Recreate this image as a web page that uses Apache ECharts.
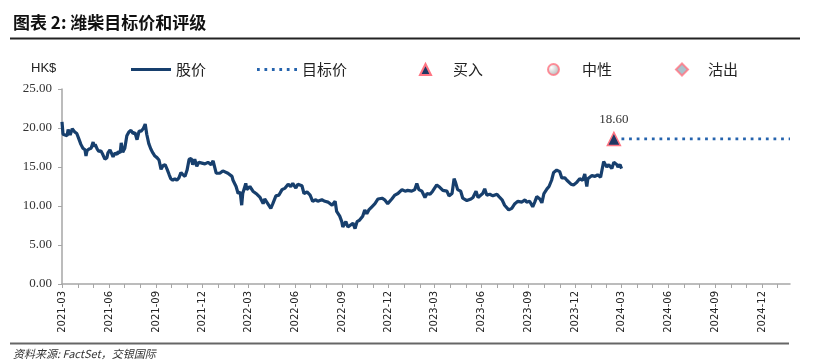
<!DOCTYPE html>
<html><head><meta charset="utf-8">
<script src="https://cdn.jsdelivr.net/npm/echarts@6/dist/echarts.min.js"></script>
<style>html,body{margin:0;padding:0;background:#fff}#c{width:816px;height:362px}</style>
</head><body><div id="c"></div>
<script>
// ---------- DATA ----------
const priceDates = [
'2021-03-01','2021-03-03','2021-03-07','2021-03-11','2021-03-13','2021-03-17','2021-03-21','2021-03-23','2021-03-26','2021-03-30',
'2021-04-03','2021-04-07','2021-04-11','2021-04-15','2021-04-17','2021-04-19','2021-04-23','2021-04-27','2021-05-01','2021-05-03',
'2021-05-05','2021-05-09','2021-05-12','2021-05-16','2021-05-20','2021-05-24','2021-05-28','2021-05-30','2021-06-03','2021-06-05',
'2021-06-09','2021-06-13','2021-06-17','2021-06-19','2021-06-23','2021-06-25','2021-06-28','2021-07-02','2021-07-06','2021-07-10',
'2021-07-14','2021-07-18','2021-07-22','2021-07-26','2021-07-30','2021-08-03','2021-08-07','2021-08-11','2021-08-14','2021-08-18',
'2021-08-22','2021-08-26','2021-08-30','2021-09-03','2021-09-07','2021-09-11','2021-09-15','2021-09-19','2021-09-23','2021-09-27',
'2021-09-30','2021-10-04','2021-10-08','2021-10-12','2021-10-16','2021-10-20','2021-10-24','2021-10-28','2021-11-01','2021-11-05',
'2021-11-09','2021-11-12','2021-11-16','2021-11-20','2021-11-24','2021-11-30','2021-12-06','2021-12-12','2021-12-18','2021-12-22',
'2021-12-28','2022-01-04','2022-01-10','2022-01-20','2022-01-28','2022-01-30','2022-02-05','2022-02-09','2022-02-13','2022-02-16',
'2022-02-18','2022-02-24','2022-02-26','2022-03-04','2022-03-10','2022-03-18','2022-03-24','2022-03-30','2022-04-02','2022-04-08',
'2022-04-14','2022-04-18','2022-04-24','2022-04-30','2022-05-06','2022-05-12','2022-05-18','2022-05-23','2022-05-27','2022-06-02',
'2022-06-06','2022-06-14','2022-06-18','2022-06-24','2022-06-30','2022-07-05','2022-07-11','2022-07-15','2022-07-23','2022-07-29',
'2022-08-04','2022-08-12','2022-08-18','2022-08-21','2022-08-27','2022-08-31','2022-09-02','2022-09-08','2022-09-12','2022-09-18',
'2022-09-22','2022-09-26','2022-09-30','2022-10-05','2022-10-11','2022-10-15','2022-10-19','2022-10-23','2022-10-29','2022-11-04',
'2022-11-10','2022-11-18','2022-11-23','2022-11-29','2022-12-07','2022-12-13','2022-12-19','2022-12-27','2023-01-02','2023-01-07',
'2023-01-15','2023-01-21','2023-01-25','2023-01-29','2023-02-04','2023-02-10','2023-02-14','2023-02-20','2023-02-25','2023-03-05',
'2023-03-11','2023-03-17','2023-03-25','2023-03-29','2023-04-04','2023-04-08','2023-04-11','2023-04-15','2023-04-21','2023-04-25',
'2023-05-03','2023-05-11','2023-05-15','2023-05-21','2023-05-25','2023-05-28','2023-06-03','2023-06-07','2023-06-11','2023-06-17',
'2023-06-23','2023-07-01','2023-07-05','2023-07-11','2023-07-16','2023-07-24','2023-07-30','2023-08-05','2023-08-11','2023-08-19',
'2023-08-25','2023-08-28','2023-09-03','2023-09-09','2023-09-13','2023-09-17','2023-09-23','2023-09-27','2023-10-01','2023-10-07',
'2023-10-11','2023-10-16','2023-10-20','2023-10-26','2023-11-01','2023-11-05','2023-11-11','2023-11-15','2023-11-23','2023-11-28',
'2023-12-04','2023-12-10','2023-12-16','2023-12-20','2023-12-24','2023-12-26','2024-01-03','2024-01-09','2024-01-14','2024-01-20',
'2024-01-26','2024-02-01','2024-02-05','2024-02-11','2024-02-15','2024-02-21','2024-02-23','2024-02-27','2024-03-01'
];
const priceValues = [
20.8,19.2,19.1,19.0,19.8,19.1,19.9,20.1,19.5,19.3,
18.6,17.9,17.4,17.2,16.4,17.1,17.3,17.4,18.2,17.6,
17.9,17.3,17.0,17.1,16.6,16.0,16.2,16.8,17.2,16.9,
16.3,16.8,16.6,17.0,16.8,18.1,16.9,17.4,19.0,19.5,
19.7,19.3,19.4,18.5,19.6,19.6,19.9,20.5,19.2,18.0,
17.3,16.8,16.4,16.2,15.9,14.7,15.2,15.3,14.7,14.0,
13.5,13.3,13.5,13.3,13.6,14.3,14.0,13.8,14.6,16.0,
16.1,15.3,16.0,15.1,15.6,15.5,15.4,15.6,15.3,15.8,
14.2,14.2,14.5,14.2,13.8,13.3,12.5,11.6,11.8,10.1,
11.6,12.9,12.1,12.5,11.9,11.5,11.1,10.3,10.9,10.3,
9.7,10.3,11.3,11.4,12.1,12.3,12.8,12.5,12.9,12.3,
12.8,12.6,11.6,11.8,11.4,10.6,10.8,10.6,10.8,10.6,
10.5,10.1,10.6,9.3,8.7,8.0,7.3,8.0,7.3,7.6,
7.8,7.1,8.0,8.2,8.7,9.5,9.0,9.5,9.9,10.3,
10.9,11.0,10.8,10.3,10.9,11.4,11.6,12.1,11.9,12.0,
11.9,12.1,12.9,12.1,11.9,11.1,11.6,11.5,11.9,12.7,
12.4,12.0,11.9,11.3,11.6,13.5,13.0,12.1,11.9,11.0,
10.7,10.9,11.1,11.9,11.1,11.2,11.6,12.2,11.4,11.5,
11.3,11.5,11.2,10.8,10.1,9.5,9.7,10.3,10.6,10.5,
10.8,10.5,10.6,9.9,10.5,11.2,10.9,10.4,11.6,12.2,
12.5,13.3,14.3,14.6,14.4,13.6,13.6,13.3,12.8,12.7,
13.0,13.5,13.3,14.1,12.5,13.5,13.9,13.8,14.0,13.7,
15.7,15.0,15.3,14.8,15.6,15.3,15.0,15.3,14.8
];
const targetDate = '2024-02-15';
const targetPrice = 18.60;
const targetEndDate = '2025-01-25';
const axisStartDate = '2021-03-01';
const axisEndDate = '2025-01-25';
const xTickLabels = ['2021-03','2021-06','2021-09','2021-12','2022-03','2022-06','2022-09','2022-12',
  '2023-03','2023-06','2023-09','2023-12','2024-03','2024-06','2024-09','2024-12'];
const yMin = 0, yMax = 25, yStep = 5;

// ---------- helpers ----------
function ts(s){ const p = s.split('-').map(Number); return new Date(p[0], p[1]-1, p[2]||1).getTime(); }
function pad(n){ return (n<10?'0':'')+n; }
const monthTicks = [];
(function(){
  const a = new Date(ts(axisStartDate)), b = ts(axisEndDate);
  let y = a.getFullYear(), m = a.getMonth();
  while (new Date(y, m, 1).getTime() <= b) { monthTicks.push(new Date(y, m, 1).getTime()); m++; if (m>11){m=0;y++;} }
})();
const labelTicks = xTickLabels.map(ts);

const priceData = priceDates.map((d,i)=>[ts(d), priceValues[i]]);
const targetData = [[ts(targetDate), targetPrice],[ts(targetEndDate), targetPrice]];
const buyData = [[ts(targetDate), targetPrice]];

// legend icon shapes
const solidIcon = 'path://M0 0h40v3H0z';
let dotted = '';
for (let i = 0; i < 6; i++) { const x = 1 + i * 7.6; dotted += 'M' + x + ' 0h2.8v3H' + x + 'z'; }
const dottedIcon = 'path://' + dotted + 'M40 0v3z';

const chart = echarts.init(document.getElementById('c'), null, {renderer:'canvas'});
const cjk = "'Noto Sans CJK SC', sans-serif";
const legendText = {fontSize:15, fontFamily:cjk, color:'#222'};
const pink = '#ff7482';

chart.setOption({
  animation:false,
  backgroundColor:'#fff',
  grid:{left:62, right:26, top:89, bottom:78, containLabel:false},
  xAxis:{
    type:'value', min:ts(axisStartDate), max:ts(axisEndDate),
    axisLine:{show:true, lineStyle:{color:'#a6a6a6', width:1.5}},
    axisTick:{show:true, customValues:monthTicks, length:4, lineStyle:{color:'#a6a6a6'}},
    axisLabel:{customValues:labelTicks, rotate:90, margin:7, fontSize:10, fontFamily:'DejaVu Sans', color:'#222',
      formatter:function(v){ const d=new Date(v); return d.getFullYear()+'-'+pad(d.getMonth()+1); }},
    splitLine:{show:false}
  },
  yAxis:{
    type:'value', min:yMin, max:yMax, interval:yStep,
    axisLine:{show:true, lineStyle:{color:'#a6a6a6', width:1.5}},
    axisTick:{show:true, length:4, lineStyle:{color:'#a6a6a6'}},
    axisLabel:{margin:10, fontSize:13, fontFamily:"'Liberation Serif', serif", color:'#333',
      formatter:function(v){ return v.toFixed(2); }},
    splitLine:{show:false}
  },
  legend:[
    {data:[{name:'股价', icon:solidIcon, itemStyle:{color:'#173f6d'}}], left:126, top:57, itemWidth:40, itemHeight:3, itemGap:0, textStyle:legendText},
    {data:[{name:'目标价', icon:dottedIcon, itemStyle:{color:'#2563ad'}}], left:252, top:57, itemWidth:40, itemHeight:3, itemGap:0, textStyle:legendText},
    {data:[{name:'买入', icon:'triangle'}], left:414, top:57, itemWidth:11, itemHeight:11, textStyle:Object.assign({padding:[0,0,0,17]}, legendText)},
    {data:[{name:'中性', icon:'circle'}], left:542, top:57, itemWidth:11, itemHeight:11, textStyle:Object.assign({padding:[0,0,0,18]}, legendText)},
    {data:[{name:'沽出', icon:'diamond'}], left:670, top:57, itemWidth:12, itemHeight:12, textStyle:Object.assign({padding:[0,0,0,15]}, legendText)}
  ],
  series:[
    {name:'股价', type:'line', data:priceData, symbol:'none', showSymbol:false,
      lineStyle:{color:'#173f6d', width:3.2}, itemStyle:{color:'#173f6d'}, z:3},
    {name:'目标价', type:'line', data:targetData, symbol:'none', showSymbol:false,
      lineStyle:{color:'#2563ad', width:2.8, type:[2.8,4.8]}, itemStyle:{color:'#2563ad'}, z:2},
    {name:'买入', type:'scatter', data:buyData, symbol:'triangle', symbolSize:13,
      itemStyle:{color:'#1f3864', borderColor:pink, borderWidth:1.5, opacity:1},
      label:{show:true, position:'top', distance:6, formatter:function(){ return targetPrice.toFixed(2); },
        fontSize:13, fontFamily:"'Liberation Serif', serif", color:'#333'}, z:5},
    {name:'中性', type:'scatter', data:[], symbol:'circle', symbolSize:11,
      itemStyle:{color:{type:'radial', x:0.35, y:0.35, r:0.75, colorStops:[{offset:0,color:'#ffffff'},{offset:1,color:'#9a9a9a'}]},
        borderColor:pink, borderWidth:1.5}},
    {name:'沽出', type:'scatter', data:[], symbol:'diamond', symbolSize:12,
      itemStyle:{color:'#93b3bf', borderColor:pink, borderWidth:1.5}}
  ],
  graphic:[
    {type:'text', left:13, top:14, style:{text:'图表 2: 潍柴目标价和评级', font:"bold 17px 'Noto Sans CJK SC'", fill:'#111'}},
    {type:'rect', shape:{x:10, y:37.5, width:790, height:2}, style:{fill:'#222'}},
    {type:'text', left:31, top:62, style:{text:'HK$', font:"13px 'Liberation Sans', Arial", fill:'#222'}},
    {type:'rect', shape:{x:10, y:342.5, width:779, height:2}, style:{fill:'#666'}},
    {type:'text', left:13, top:348, style:{text:'资料来源: FactSet，交银国际', font:"italic 11px 'Noto Sans CJK SC'", fill:'#333'}}
  ]
});
</script>
</body></html>
